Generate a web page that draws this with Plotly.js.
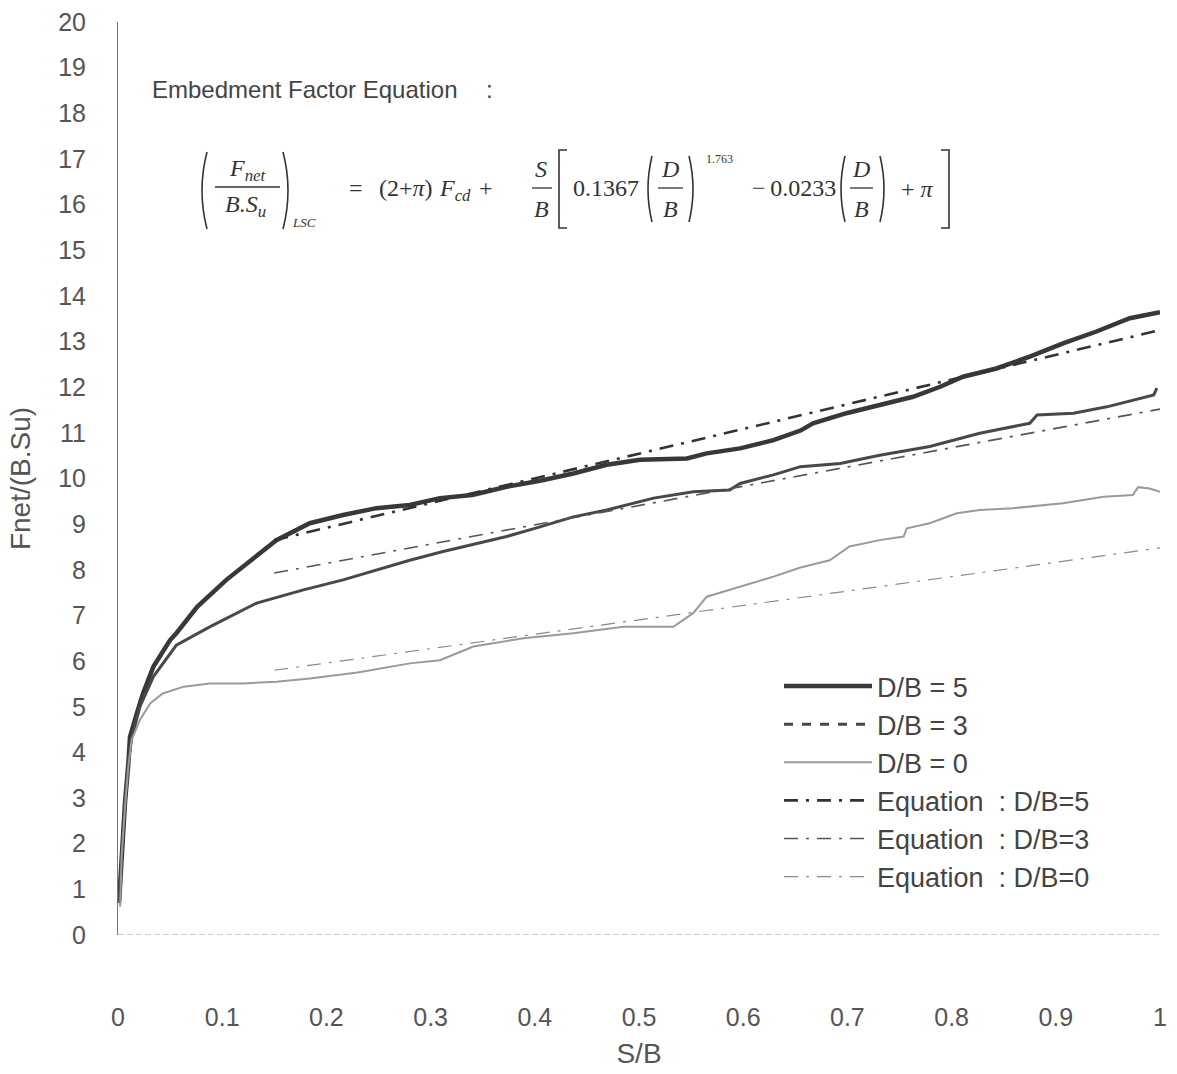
<!DOCTYPE html>
<html>
<head>
<meta charset="utf-8">
<script src="https://cdn.plot.ly/plotly-3.0.1.min.js"></script>
<style>html,body{margin:0;padding:0;background:#fff;}#chart{width:1177px;height:1074px;}</style>
</head>
<body>
<div id="chart"></div>
<script>
// ---- data ----
const s5 = [0.001,0.0035,0.0067,0.0099,0.0115,0.018,0.024,0.034,0.040,0.050,0.056,0.076,0.104,0.127,0.152,0.184,0.216,0.248,0.280,0.309,0.340,0.373,0.405,0.437,0.469,0.501,0.525,0.546,0.565,0.597,0.629,0.655,0.667,0.699,0.731,0.763,0.789,0.811,0.843,0.875,0.907,0.939,0.971,1.0];
const v5 = [0.70,1.8,2.9,3.75,4.34,4.85,5.29,5.88,6.10,6.46,6.61,7.19,7.78,8.21,8.65,9.02,9.20,9.35,9.42,9.57,9.64,9.82,9.95,10.11,10.30,10.41,10.43,10.44,10.55,10.66,10.84,11.05,11.21,11.43,11.61,11.79,12.01,12.23,12.41,12.67,12.96,13.22,13.51,13.64];

const s3 = [0.001,0.0035,0.0067,0.0099,0.013,0.021,0.034,0.056,0.088,0.133,0.178,0.216,0.248,0.280,0.312,0.338,0.373,0.405,0.437,0.469,0.514,0.552,0.587,0.597,0.629,0.655,0.693,0.731,0.779,0.827,0.875,0.882,0.917,0.949,0.981,0.994,0.997];
const v3 = [0.70,1.8,2.9,3.75,4.3,5.0,5.66,6.35,6.75,7.27,7.56,7.78,8.00,8.21,8.40,8.54,8.73,8.94,9.16,9.31,9.57,9.71,9.75,9.89,10.08,10.26,10.33,10.51,10.70,10.99,11.21,11.39,11.43,11.57,11.76,11.83,11.98];

const s0 = [0.002,0.0035,0.0067,0.0099,0.013,0.021,0.031,0.043,0.063,0.088,0.120,0.152,0.184,0.230,0.280,0.309,0.341,0.389,0.437,0.485,0.533,0.552,0.565,0.597,0.629,0.655,0.683,0.702,0.731,0.754,0.757,0.779,0.805,0.827,0.859,0.907,0.946,0.974,0.979,0.99,1.0];
const v0 = [0.62,1.72,2.81,3.69,4.27,4.71,5.08,5.29,5.44,5.51,5.51,5.55,5.62,5.75,5.95,6.02,6.32,6.50,6.61,6.75,6.75,7.05,7.41,7.63,7.85,8.05,8.21,8.51,8.65,8.73,8.91,9.02,9.24,9.31,9.35,9.46,9.60,9.64,9.81,9.78,9.71];

const eqS  = [0.15, 1.0];
const eq5  = [8.65, 13.25];
const eq3  = [7.93, 11.52];
const eq0  = [5.80, 8.48];

const xTicks = [0,0.1,0.2,0.3,0.4,0.5,0.6,0.7,0.8,0.9,1];
const xTickText = ['0','0.1','0.2','0.3','0.4','0.5','0.6','0.7','0.8','0.9','1'];
const yTicks = [0,1,2,3,4,5,6,7,8,9,10,11,12,13,14,15,16,17,18,19,20];

const names = ['D/B = 5','D/B = 3','D/B = 0','Equation\u00a0\u00a0: D/B=5','Equation\u00a0\u00a0: D/B=3','Equation\u00a0\u00a0: D/B=0'];

// ---- layout helpers (pixel -> paper) ----
const L = 118, R = 17, T = 22, B = 139, W = 1177, H = 1074;
const PW = W - L - R, PH = H - T - B;
const px = x => (x - L) / PW;
const py = y => (H - B - y) / PH;

const dashDot = '14px,8px,3px,8px';
const traces = [
  {x: s5, y: v5, mode: 'lines', name: names[0], line: {color: '#383838', width: 4.5}},
  {x: s3, y: v3, mode: 'lines', name: names[1], showlegend: false, line: {color: '#484848', width: 3}},
  {x: [null], y: [null], mode: 'lines', name: names[1], line: {color: '#484848', width: 3, dash: '9px,9px'}},
  {x: s0, y: v0, mode: 'lines', name: names[2], line: {color: '#9a9a9a', width: 2}},
  {x: eqS, y: eq5, mode: 'lines', name: names[3], line: {color: '#333333', width: 2.6, dash: dashDot}},
  {x: eqS, y: eq3, mode: 'lines', name: names[4], line: {color: '#555555', width: 1.6, dash: dashDot}},
  {x: eqS, y: eq0, mode: 'lines', name: names[5], line: {color: '#8a8a8a', width: 1.2, dash: dashDot}}
];

const serif = 'Liberation Serif, DejaVu Serif, serif';
const sans = 'Liberation Sans, Arial, sans-serif';
const ink = '#333';
function txt(x, y, text, size, opts) {
  return Object.assign({xref: 'paper', yref: 'paper', x: px(x), y: py(y), text: text,
    showarrow: false, xanchor: 'center', yanchor: 'middle',
    font: {family: serif, size: size, color: ink}}, opts || {});
}
function hline(x0, x1, y) {
  return {type: 'line', xref: 'paper', yref: 'paper', x0: px(x0), x1: px(x1), y0: py(y), y1: py(y),
    line: {color: ink, width: 1.3}};
}
function paren(x, ytop, ybot, bulge) {
  const ym = (ytop + ybot) / 2;
  return {type: 'path', xref: 'paper', yref: 'paper',
    path: `M ${px(x)},${py(ytop)} Q ${px(x + 2 * bulge)},${py(ym)} ${px(x)},${py(ybot)}`,
    line: {color: ink, width: 1.6}};
}
function bracket(x, ytop, ybot, w) {
  return {type: 'path', xref: 'paper', yref: 'paper',
    path: `M ${px(x + w)},${py(ytop)} L ${px(x)},${py(ytop)} L ${px(x)},${py(ybot)} L ${px(x + w)},${py(ybot)}`,
    line: {color: ink, width: 1.6}};
}

const annotations = [
  txt(150, 89, 'Embedment Factor Equation', 24, {xanchor: 'left', font: {family: sans, size: 24, color: '#444'}}),
  txt(489, 89, ':', 24, {font: {family: sans, size: 24, color: '#444'}}),
  txt(247, 170, '<i>F</i><sub><i>net</i></sub>', 24),
  txt(245, 206, '<i>B.S</i><sub><i>u</i></sub>', 24),
  txt(304, 222, '<i>LSC</i>', 13),
  txt(356, 188, '=', 24),
  txt(406, 188, '(2+<i>\u03c0</i>)', 24),
  txt(455, 190, '<i>F</i><sub><i>cd</i></sub>', 24),
  txt(486, 188, '+', 24),
  txt(541, 169, '<i>S</i>', 24),
  txt(541, 209, '<i>B</i>', 24),
  txt(606, 188, '0.1367', 24),
  txt(670, 169, '<i>D</i>', 24),
  txt(670, 209, '<i>B</i>', 24),
  txt(719, 159, '1.763', 12),
  txt(838, 188, '\u2212\u20090.0233', 24, {xanchor: 'right'}),
  txt(861, 169, '<i>D</i>', 24),
  txt(861, 209, '<i>B</i>', 24),
  txt(917, 189, '+ <i>\u03c0</i>', 24)
];

const shapes = [
  // x axis line at y = 0 (faint dashed)
  {type: 'line', xref: 'paper', yref: 'y', x0: 0, x1: 1, y0: 0, y1: 0, line: {color: '#9a9a9a', width: 1.2, dash: '6px,3px'}},
  // equation decorations
  paren(207, 152, 229, -5), hline(215, 280, 187), paren(283, 152, 229, 5),
  hline(532, 552, 188), bracket(559, 150, 228, 8),
  paren(652, 156, 222, -4), hline(658, 683, 188), paren(689, 156, 222, 4),
  paren(845, 156, 222, -4), hline(850, 873, 188), paren(880, 156, 222, 4),
  bracket(949, 150, 228, -8)
];

const layout = {
  width: W, height: H,
  margin: {l: L, r: R, t: T, b: B, pad: 0},
  paper_bgcolor: '#fff', plot_bgcolor: '#fff',
  font: {family: sans, color: '#555', size: 25},
  showlegend: true,
  legend: {x: px(779), y: py(662), xanchor: 'left', yanchor: 'top',
    bgcolor: 'rgba(0,0,0,0)', borderwidth: 0, itemwidth: 88,
    font: {family: sans, size: 27, color: '#444'}, tracegroupgap: 0},
  xaxis: {range: [0, 1], tickvals: xTicks, ticktext: xTickText, showgrid: false, zeroline: false,
    showline: false, ticks: '', ticklabelstandoff: 65,
    tickfont: {family: sans, size: 25, color: '#555'},
    title: {text: 'S/B', font: {family: sans, size: 28, color: '#555'}, standoff: 13}},
  yaxis: {range: [0, 20], tickvals: yTicks, showgrid: false, zeroline: false,
    showline: true, linecolor: '#777', linewidth: 1, ticks: '', ticklabelstandoff: 26,
    tickfont: {family: sans, size: 25, color: '#555'},
    title: {text: 'Fnet/(B.Su)', font: {family: sans, size: 28, color: '#555'}, standoff: 19}},
  annotations: annotations,
  shapes: shapes
};

Plotly.newPlot('chart', traces, layout, {staticPlot: true, displayModeBar: false});
</script>
</body>
</html>
